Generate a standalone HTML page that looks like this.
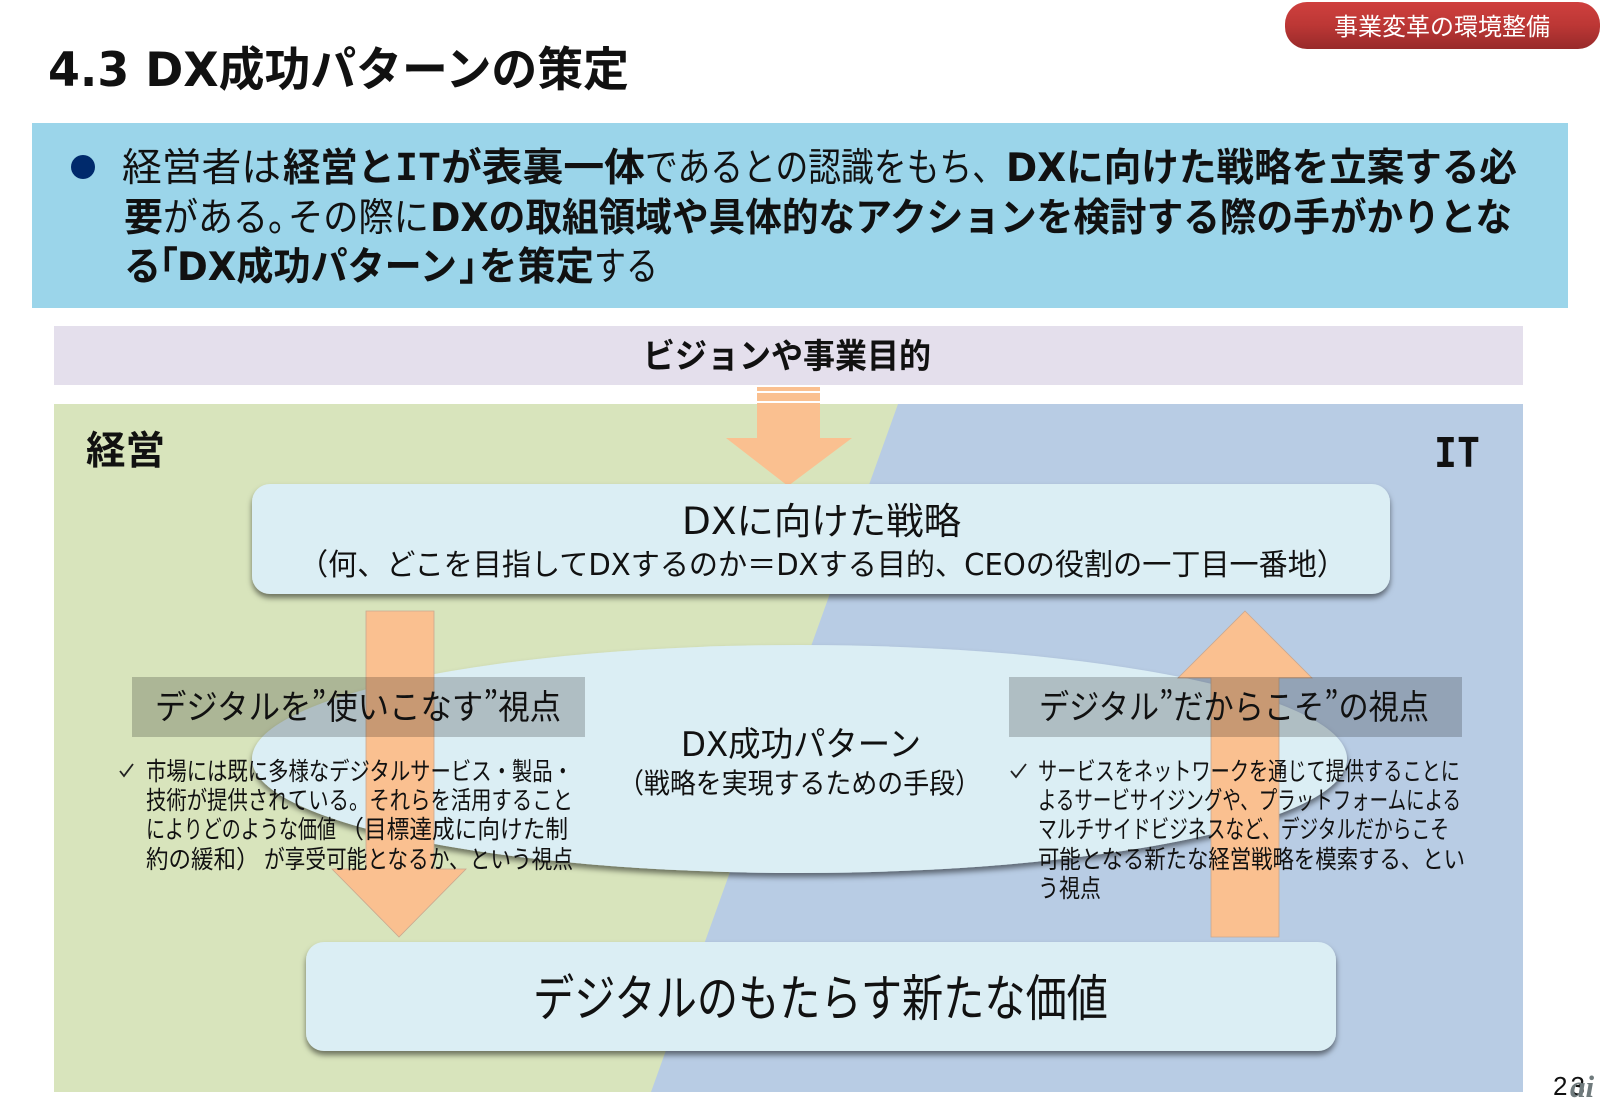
<!DOCTYPE html>
<html lang="ja">
<head>
<meta charset="utf-8">
<title>4.3 DX成功パターンの策定</title>
<style>
html,body{margin:0;padding:0;background:#fff;width:1600px;height:1108px;overflow:hidden}
svg{display:block}
text{font-family:"DejaVu Sans","Noto Sans CJK JP",sans-serif;fill:#111}
.j{font-family:"Noto Sans CJK JP",sans-serif}
.b{font-weight:700}
.m{font-family:"DejaVu Sans Mono",monospace;font-weight:700}
</style>
</head>
<body>
<svg width="1600" height="1108" viewBox="0 0 1600 1108" xmlns="http://www.w3.org/2000/svg">
<defs>
<linearGradient id="red" x1="0" y1="0" x2="0" y2="1"><stop offset="0" stop-color="#cf403e"/><stop offset="0.5" stop-color="#bc3735"/><stop offset="1" stop-color="#982a2a"/></linearGradient>
<filter id="sh" x="-5%" y="-10%" width="110%" height="125%"><feDropShadow dx="0" dy="4" stdDeviation="3" flood-color="#000" flood-opacity="0.5"/></filter>
</defs>

<!-- tag -->
<rect x="1285" y="2" width="315" height="47" rx="22" fill="url(#red)"/>
<text class="j" x="1334" y="35" font-size="24" style="fill:#fff" textLength="216" lengthAdjust="spacingAndGlyphs">事業変革の環境整備</text>

<!-- title -->
<text class="b" x="48" y="86" font-size="47" textLength="581" lengthAdjust="spacingAndGlyphs">4.3 DX成功パターンの策定</text>

<!-- header band -->
<rect x="32" y="123" width="1536" height="185" fill="#9bd5ea"/>
<circle cx="83" cy="167" r="12" fill="#002a6c"/>

<text class="j" x="122" y="181" font-size="39" textLength="159" lengthAdjust="spacingAndGlyphs">経営者は</text>
<text class="j b" x="283" y="181" font-size="39" textLength="112" lengthAdjust="spacingAndGlyphs">経営と</text>
<text class="m" x="395" y="180" font-size="37" textLength="46" lengthAdjust="spacingAndGlyphs">IT</text>
<text class="j b" x="441" y="181" font-size="39" textLength="204" lengthAdjust="spacingAndGlyphs">が表裏一体</text>
<text class="j" x="645" y="181" font-size="39" textLength="360" lengthAdjust="spacingAndGlyphs">であるとの認識をもち、</text>
<text class="b" x="1006" y="181" font-size="39" textLength="511" lengthAdjust="spacingAndGlyphs">DXに向けた戦略を立案する必</text>

<text class="j b" x="124" y="231" font-size="39" textLength="39" lengthAdjust="spacingAndGlyphs">要</text>
<text class="j" x="163" y="231" font-size="39" textLength="140" lengthAdjust="spacingAndGlyphs">がある。</text>
<text class="j" x="288" y="231" font-size="39" textLength="141" lengthAdjust="spacingAndGlyphs">その際に</text>
<text class="b" x="430" y="231" font-size="39" textLength="1082" lengthAdjust="spacingAndGlyphs">DXの取組領域や具体的なアクションを検討する際の手がかりとな</text>

<text class="j b" x="124" y="280" font-size="39" textLength="37" lengthAdjust="spacingAndGlyphs">る</text>
<text class="j b" x="141" y="280" font-size="39" textLength="37" lengthAdjust="spacingAndGlyphs">「</text>
<text class="b" x="177" y="280" font-size="39" textLength="280" lengthAdjust="spacingAndGlyphs">DX成功パターン</text>
<text class="j b" x="459" y="280" font-size="39" textLength="37" lengthAdjust="spacingAndGlyphs">」</text>
<text class="j b" x="479" y="280" font-size="39" textLength="115" lengthAdjust="spacingAndGlyphs">を策定</text>
<text class="j" x="594" y="280" font-size="39" textLength="64" lengthAdjust="spacingAndGlyphs">する</text>

<!-- vision band -->
<rect x="54" y="326" width="1469" height="59" fill="#e4dfec"/>
<text class="j b" x="643" y="368" font-size="34" textLength="288" lengthAdjust="spacingAndGlyphs">ビジョンや事業目的</text>

<!-- panels -->
<rect x="54" y="404" width="1469" height="688" fill="#b8cce4"/>
<polygon points="54,404 898,404 651,1092 54,1092" fill="#d8e4bc"/>

<text class="j b" x="86" y="464" font-size="39" textLength="79" lengthAdjust="spacingAndGlyphs">経営</text>
<text class="m" x="1434" y="467" font-size="41" textLength="46" lengthAdjust="spacingAndGlyphs">IT</text>

<!-- top arrow -->
<polygon points="757,403 820,403 820,438 852,438 788,486 726,438 757,438" fill="#fac090"/>
<rect x="757" y="387" width="63" height="4" fill="#fac090"/>
<rect x="757" y="393" width="63" height="8" fill="#fac090"/>

<!-- boxes -->
<rect x="252" y="484" width="1138" height="110" rx="18" fill="#dbeef4" filter="url(#sh)"/>
<text x="682" y="534" font-size="37" textLength="279" lengthAdjust="spacingAndGlyphs">DXに向けた戦略</text>
<text x="299" y="575" font-size="30" textLength="1047" lengthAdjust="spacingAndGlyphs">（何、どこを目指してDXするのか＝DXする目的、CEOの役割の一丁目一番地）</text>

<ellipse cx="799.5" cy="759" rx="547.5" ry="114" fill="#dbeef4" filter="url(#sh)"/>

<rect x="306" y="942" width="1030" height="109" rx="18" fill="#dbeef4" filter="url(#sh)"/>
<text class="j" x="533" y="1016" font-size="50" textLength="575" lengthAdjust="spacingAndGlyphs">デジタルのもたらす新たな価値</text>

<!-- side arrows -->
<polygon points="366,611 434,611 434,869 466,869 399,937 332,869 366,869" fill="#fac090" stroke="#c9a890" stroke-width="0.8"/>
<polygon points="1245,611 1312,678 1279,678 1279,937 1211,937 1211,678 1178,678" fill="#fac090" stroke="#c9a890" stroke-width="0.8"/>

<!-- grey bands -->
<rect x="132" y="677" width="453" height="60" fill="#000" fill-opacity="0.2"/>
<rect x="1009" y="677" width="453" height="60" fill="#000" fill-opacity="0.2"/>

<text class="j" x="155" y="719" font-size="34" textLength="406" lengthAdjust="spacingAndGlyphs">デジタルを”使いこなす”視点</text>
<text class="j" x="1039" y="719" font-size="34" textLength="390" lengthAdjust="spacingAndGlyphs">デジタル”だからこそ”の視点</text>

<text x="681" y="756" font-size="34" textLength="240" lengthAdjust="spacingAndGlyphs">DX成功パターン</text>
<text class="j" x="618" y="793" font-size="28" textLength="363" lengthAdjust="spacingAndGlyphs">（戦略を実現するための手段）</text>

<!-- left bullets -->
<path d="M120 771 l4 5 l9 -12" fill="none" stroke="#222" stroke-width="1.8"/>
<text class="j" x="146" y="780" font-size="25" textLength="427" lengthAdjust="spacingAndGlyphs">市場には既に多様なデジタルサービス・製品・</text>
<text class="j" x="146" y="809" font-size="25" textLength="427" lengthAdjust="spacingAndGlyphs">技術が提供されている。それらを活用すること</text>
<text class="j" x="146" y="838" font-size="25" textLength="190" lengthAdjust="spacingAndGlyphs">によりどのような価値</text>
<text class="j" x="340" y="838" font-size="25" textLength="24" lengthAdjust="spacingAndGlyphs">（</text>
<text class="j" x="364" y="838" font-size="25" textLength="204" lengthAdjust="spacingAndGlyphs">目標達成に向けた制</text>
<text class="j" x="146" y="868" font-size="25" textLength="90" lengthAdjust="spacingAndGlyphs">約の緩和</text>
<text class="j" x="236" y="868" font-size="25" textLength="24" lengthAdjust="spacingAndGlyphs">）</text>
<text class="j" x="264" y="868" font-size="25" textLength="309" lengthAdjust="spacingAndGlyphs">が享受可能となるか、という視点</text>

<!-- right bullets -->
<path d="M1011 771 l5 6 l10 -13" fill="none" stroke="#222" stroke-width="1.8"/>
<text class="j" x="1038" y="780" font-size="25" textLength="422" lengthAdjust="spacingAndGlyphs">サービスをネットワークを通じて提供することに</text>
<text class="j" x="1038" y="809" font-size="25" textLength="423" lengthAdjust="spacingAndGlyphs">よるサービサイジングや、プラットフォームによる</text>
<text class="j" x="1038" y="838" font-size="25" textLength="411" lengthAdjust="spacingAndGlyphs">マルチサイドビジネスなど、デジタルだからこそ</text>
<text class="j" x="1038" y="868" font-size="25" textLength="427" lengthAdjust="spacingAndGlyphs">可能となる新たな経営戦略を模索する、とい</text>
<text class="j" x="1038" y="897" font-size="25" textLength="63" lengthAdjust="spacingAndGlyphs">う視点</text>

<!-- page number / logo -->
<text x="1553" y="1095" font-size="26" textLength="32" lengthAdjust="spacing" style="font-family:'Liberation Sans',sans-serif">23</text>
<text x="1570" y="1097" font-size="31" font-style="italic" font-weight="700" style="fill:#6f7a7c;font-family:'Liberation Serif',serif">ai</text>
</svg>
</body>
</html>
